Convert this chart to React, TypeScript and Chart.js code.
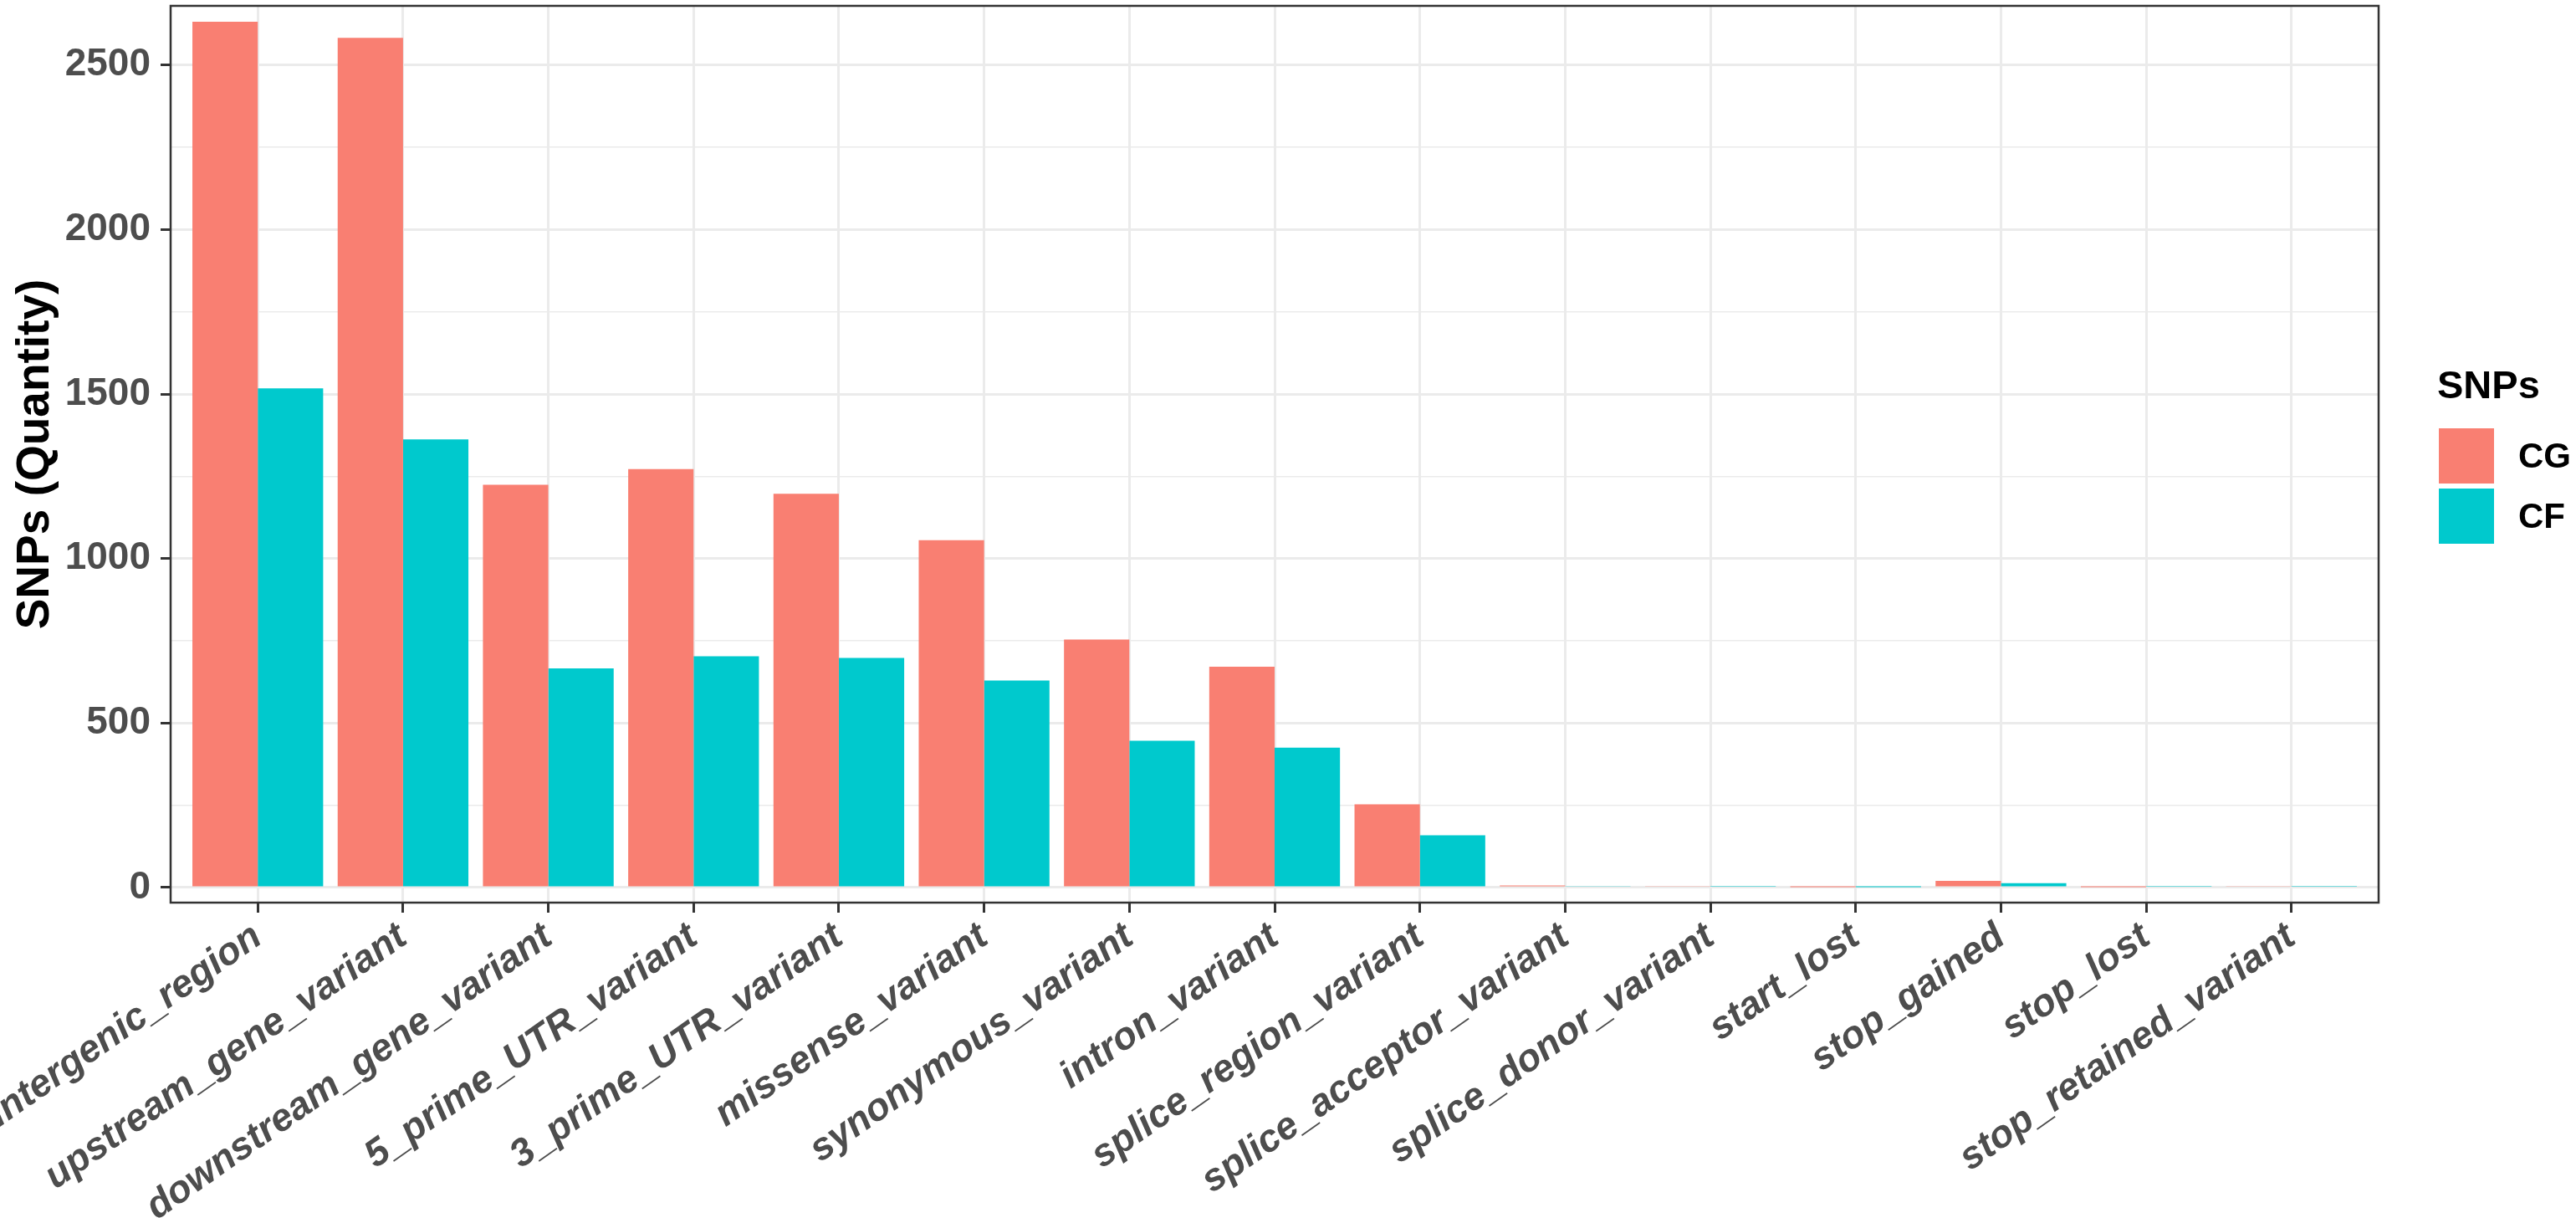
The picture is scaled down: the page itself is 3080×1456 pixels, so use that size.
import React, { useEffect, useRef } from "react";
import { Chart, registerables } from "chart.js";

Chart.register(...registerables);

const categories = [
  "intergenic_region",
  "upstream_gene_variant",
  "downstream_gene_variant",
  "5_prime_UTR_variant",
  "3_prime_UTR_variant",
  "missense_variant",
  "synonymous_variant",
  "intron_variant",
  "splice_region_variant",
  "splice_acceptor_variant",
  "splice_donor_variant",
  "start_lost",
  "stop_gained",
  "stop_lost",
  "stop_retained_variant",
];
const cgValues = [2632, 2583, 1224, 1272, 1197, 1056, 754, 671, 253, 6, 4, 1, 20, 1, 4];
const cfValues = [1517, 1362, 666, 703, 698, 629, 446, 425, 159, 3, 2, 1, 13, 2, 2];
const seriesNames = ["CG", "CF"];
const seriesColors = ["#F97F72", "#00C9CD"];
const yMajorTicks = [0, 500, 1000, 1500, 2000, 2500];
const yMinorTicks = [250, 750, 1250, 1750, 2250];
const yTitle = "SNPs (Quantity)";
const legendTitle = "SNPs";

const W = 3080;
const H = 1456;
const FONT = "'Liberation Sans', Arial, sans-serif";

const decorPlugin = {
  id: "decor",
  afterDatasetsDraw(chart: any) {
    const { ctx, chartArea: a } = chart;
    ctx.save();
    ctx.strokeStyle = "#333333";
    ctx.lineWidth = 2.5;
    ctx.strokeRect(a.left, a.top, a.right - a.left, a.bottom - a.top);
    ctx.restore();
  },
  afterDraw(chart: any) {
    const { ctx, chartArea: a } = chart;
    ctx.save();
    ctx.translate(43, (a.top + a.bottom) / 2);
    ctx.rotate(-Math.PI / 2);
    ctx.font = `bold 55px ${FONT}`;
    ctx.fillStyle = "#000000";
    ctx.textAlign = "center";
    ctx.textBaseline = "middle";
    ctx.fillText(yTitle, 0, 0);
    ctx.restore();

    ctx.save();
    ctx.fillStyle = "#000000";
    ctx.font = `bold 47px ${FONT}`;
    ctx.textAlign = "left";
    ctx.textBaseline = "alphabetic";
    ctx.fillText(legendTitle, 2914, 476);
    seriesNames.forEach((name, i) => {
      const y = 512 + i * 72;
      ctx.fillStyle = seriesColors[i];
      ctx.fillRect(2916, y, 66, 66);
      ctx.fillStyle = "#000000";
      ctx.font = `bold 42px ${FONT}`;
      ctx.textBaseline = "middle";
      ctx.fillText(name, 3011, y + 35);
    });
    ctx.restore();
  },
};

export default function App() {
  const canvasRef = useRef<HTMLCanvasElement | null>(null);

  useEffect(() => {
    const canvas = canvasRef.current;
    if (!canvas) return;
    const majorSet = new Set(yMajorTicks);
    const chart = new Chart(canvas, {
      type: "bar",
      data: {
        datasets: seriesNames.map((name, si) => ({
          label: name,
          data: (si === 0 ? cgValues : cfValues).map((v, i) => ({ x: i, y: v })),
          backgroundColor: seriesColors[si],
          borderWidth: 0,
          categoryPercentage: 0.9,
          barPercentage: 1.0,
        })),
      },
      options: {
        animation: false,
        responsive: false,
        devicePixelRatio: 1,
        layout: { padding: { top: 7, right: 236, bottom: 0, left: 0 }, autoPadding: false },
        plugins: { legend: { display: false }, tooltip: { enabled: false } },
        scales: {
          x: {
            type: "linear",
            offset: false,
            min: -0.6,
            max: categories.length - 1 + 0.6,
            afterBuildTicks: (axis: any) => {
              axis.ticks = categories.map((_, i) => ({ value: i }));
            },
            afterFit: (s: any) => {
              s.height = H - 1079;
              s.paddingLeft = 0;
              s.paddingRight = 0;
            },
            border: { display: false },
            grid: {
              offset: false,
              color: "#EBEBEB",
              lineWidth: 3,
              tickColor: "#333333",
              tickWidth: 3,
              tickLength: 12,
            },
            ticks: {
              autoSkip: false,
              minRotation: 35,
              maxRotation: 35,
              padding: 2,
              color: "#4D4D4D",
              font: { family: FONT, size: 46, weight: "bold", style: "italic" },
              callback: (v: any) => categories[v as number] ?? "",
            },
          },
          y: {
            type: "linear",
            min: -46,
            max: 2680,
            afterBuildTicks: (axis: any) => {
              axis.ticks = [...yMajorTicks, ...yMinorTicks]
                .sort((a, b) => a - b)
                .map((v) => ({ value: v }));
            },
            afterFit: (s: any) => {
              s.width = 204;
              s.paddingTop = 0;
              s.paddingBottom = 0;
            },
            border: { display: false },
            grid: {
              color: "#EBEBEB",
              lineWidth: (c: any) => (majorSet.has(c.tick?.value) ? 3 : 1.5),
              tickColor: (c: any) => (majorSet.has(c.tick?.value) ? "#333333" : "rgba(0,0,0,0)"),
              tickWidth: 3,
              tickLength: 12,
            },
            ticks: {
              autoSkip: false,
              padding: 12,
              color: "#4D4D4D",
              font: { family: FONT, size: 46, weight: "bold" },
              callback: (v: any) => (majorSet.has(v as number) ? String(v) : ""),
            },
          },
        },
      },
      plugins: [decorPlugin],
    } as any);
    return () => chart.destroy();
  }, []);

  return (
    <div style={{ position: "fixed", left: 0, top: 0, width: W, height: H, background: "#FFFFFF" }}>
      <canvas ref={canvasRef} width={W} height={H} style={{ width: W, height: H, display: "block" }} />
    </div>
  );
}
